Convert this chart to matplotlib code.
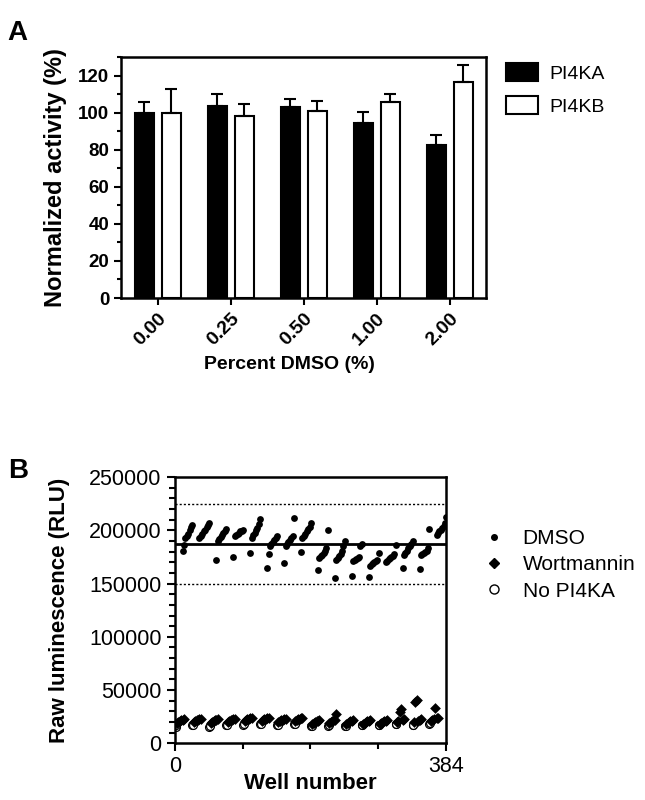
import matplotlib
matplotlib.use("Agg")
import matplotlib.pyplot as plt
import numpy as np
from matplotlib.ticker import MultipleLocator, FixedLocator
from matplotlib.lines import Line2D
from matplotlib.patches import Patch

plt.rcParams['font.family'] = ['Liberation Sans', 'DejaVu Sans']

# ---- panel A data ----
dmso_pct = ["0.00", "0.25", "0.50", "1.00", "2.00"]
pi4ka = [100, 103.5, 103, 94.5, 82.5]
pi4ka_err = [6, 6.5, 4.5, 6, 5.5]
pi4kb = [100, 98.5, 101, 106, 116.5]
pi4kb_err = [13, 6.5, 5.5, 4, 9.5]

# ---- panel B data (RLU in thousands, one list per plate row of 24 wells) ----
dmso_cols = [11, 13, 15, 17, 19, 21, 23, 25]
dmso_rlu = [
    [181, 186, 193, 195, 197, 200, 203, 205],
    [193, 195, 197, 199, 200, 203, 205, 207],
    [172, 190, 192, 194, 196, 198, 199, 201],
    [175, 195, 196, 197, 198, 199, 199, 200],
    [179, 193, 196, 198, 200, 202, 206, 211],
    [165, 178, 185, 187, 189, 191, 193, 195],
    [169, 185, 187, 189, 191, 193, 195, 212],
    [180, 193, 195, 197, 199, 201, 203, 207],
    [163, 174, 176, 177, 179, 181, 183, 200],
    [155, 172, 174, 176, 178, 181, 185, 190],
    [157, 171, 172, 173, 174, 175, 185, 187],
    [156, 167, 168, 169, 170, 171, 172, 179],
    [170, 171, 173, 174, 175, 176, 178, 186],
    [165, 177, 179, 181, 183, 185, 187, 190],
    [164, 177, 178, 179, 180, 181, 183, 201],
    [196, 198, 199, 200, 202, 204, 207, 213],
]
wort_cols = [3, 5, 7, 9, 11, 13]
wort_rlu = [
    [19, 20, 21, 21.5, 22, 23],
    [20, 21, 21.5, 22, 22.5, 23],
    [19, 20, 21, 21.5, 22, 23],
    [20, 21, 21.5, 22, 22.5, 23],
    [21, 22, 22.5, 23, 23.5, 24],
    [21, 22, 22.5, 23, 23.5, 24],
    [20, 21, 21.5, 22, 22.5, 23],
    [21, 22, 22.5, 23, 23.5, 24],
    [18, 19, 20, 20.5, 21, 22],
    [19, 20, 21, 21.5, 22, 27],
    [18, 19, 20, 20.5, 21, 21.5],
    [18.5, 19, 20, 20.5, 21, 21.5],
    [18.5, 19, 20, 20.5, 21, 22],
    [20, 21, 29, 32, 22, 22.5],
    [20, 39, 41, 21, 22, 22.5],
    [21, 22, 23, 33, 24, 24],
]
nopi_cols = [1, 2]
nopi_rlu = [
    [15.5, 17], [17, 17.5], [15.5, 16], [17, 17.5],
    [17.5, 18], [18, 18.5], [17, 17.5], [18, 18.5],
    [16, 16.5], [16.5, 17], [16, 16.5], [17, 17.5],
    [17, 17.5], [18, 18.5], [17, 17.5], [18.5, 19],
]
wells_per_row = 24
mean_rlu = 187500
limits_rlu = [150000, 225000]

fig = plt.figure(figsize=(6.45, 8), dpi=100)

# ================= A =================
axA = fig.add_axes([0.188, 0.6275, 0.566, 0.301])
x = np.arange(len(dmso_pct))
w = 0.26
axA.bar(x - 0.185, pi4ka, w, color='black', edgecolor='black', linewidth=1.5,
        yerr=[[0] * 5, pi4ka_err], error_kw=dict(ecolor='black', elinewidth=1.5, capsize=4.5, capthick=1.5))
axA.bar(x + 0.185, pi4kb, w, color='white', edgecolor='black', linewidth=1.5,
        yerr=[[0] * 5, pi4kb_err], error_kw=dict(ecolor='black', elinewidth=1.5, capsize=4.5, capthick=1.5))
axA.set_xlim(-0.5, 4.5)
axA.set_ylim(0, 130)
axA.yaxis.set_major_locator(FixedLocator([0, 20, 40, 60, 80, 100, 120]))
axA.yaxis.set_minor_locator(MultipleLocator(10))
axA.set_xticks(x)
axA.set_xticklabels(dmso_pct, rotation=45, ha='right', va='top', rotation_mode='anchor',
                    fontsize=14, fontweight='bold')
for lab in axA.get_yticklabels():
    lab.set_fontsize(13.5)
    lab.set_fontweight('bold')
axA.tick_params(axis='both', which='major', length=5, width=1.5, direction='out')
axA.tick_params(axis='y', which='minor', length=3, width=1.5, direction='out')
for s in axA.spines.values():
    s.set_linewidth(1.8)
axA.set_ylabel("Normalized activity (%)", fontsize=17, fontweight='bold', labelpad=8)
axA.set_xlabel("Percent DMSO (%)", fontsize=14, fontweight='bold', labelpad=6)
axA.xaxis.set_label_coords(0.46, -0.24)
handlesA = [Patch(facecolor='black', edgecolor='black', linewidth=1.5, label='PI4KA'),
            Patch(facecolor='white', edgecolor='black', linewidth=1.5, label='PI4KB')]
fig.legend(handles=handlesA, loc='upper left', bbox_to_anchor=(0.758, 0.943), frameon=False,
           fontsize=14, handlelength=1.6, handleheight=1.05, handletextpad=0.6, labelspacing=0.7)

# ================= B =================
axB = fig.add_axes([0.271, 0.071, 0.42, 0.3325])
for k in range(len(dmso_rlu)):
    base = k * wells_per_row
    axB.scatter([base + c for c in nopi_cols], [v * 1000 for v in nopi_rlu[k]], s=32,
                facecolor='white', edgecolor='black', linewidth=0.9, zorder=2)
    axB.scatter([base + c for c in wort_cols], [v * 1000 for v in wort_rlu[k]], s=30,
                marker='D', color='black', linewidth=0, zorder=3)
    axB.scatter([base + c for c in dmso_cols], [v * 1000 for v in dmso_rlu[k]], s=24,
                color='black', linewidth=0, zorder=3)
axB.axhline(mean_rlu, color='black', linewidth=2)
for lim in limits_rlu:
    axB.axhline(lim, color='black', linewidth=1, linestyle=(0, (1.5, 1.5)))
axB.set_xlim(0, 384)
axB.set_ylim(0, 250000)
axB.set_xticks([0, 384])
axB.xaxis.set_minor_locator(FixedLocator([96, 192, 288]))
axB.yaxis.set_major_locator(MultipleLocator(50000))
axB.yaxis.set_minor_locator(MultipleLocator(10000))
axB.tick_params(axis='both', which='major', length=6, width=1.5, direction='out', labelsize=15.5)
axB.tick_params(axis='both', which='minor', length=4, width=1.5, direction='out')
for s in axB.spines.values():
    s.set_linewidth(1.8)
axB.set_ylabel("Raw luminescence (RLU)", fontsize=16, fontweight='bold', labelpad=14)
axB.set_xlabel("Well number", fontsize=16, fontweight='bold', labelpad=-3)
handlesB = [Line2D([], [], marker='o', color='black', linestyle='none', markersize=4, label='DMSO'),
            Line2D([], [], marker='D', color='black', linestyle='none', markersize=5, label='Wortmannin'),
            Line2D([], [], marker='o', markerfacecolor='white', markeredgecolor='black',
                   linestyle='none', markersize=6.5, label='No PI4KA')]
fig.legend(handles=handlesB, loc='upper left', bbox_to_anchor=(0.72, 0.362), frameon=False,
           fontsize=15, handlelength=1.0, handletextpad=0.9, labelspacing=0.35)

fig.text(0.012, 0.975, "A", fontsize=20, fontweight='bold', va='top')
fig.text(0.012, 0.427, "B", fontsize=20, fontweight='bold', va='top')

fig.savefig("out.png", dpi=100)
